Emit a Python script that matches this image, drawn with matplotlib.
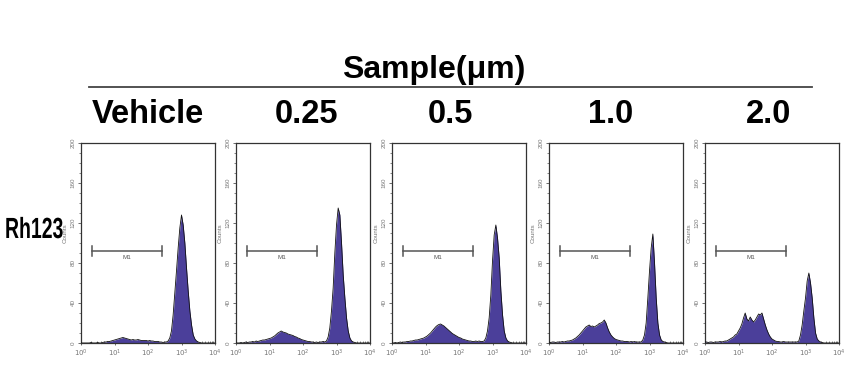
import numpy as np
import matplotlib
matplotlib.use("Agg")
import matplotlib.pyplot as plt
from matplotlib.ticker import LogLocator, NullFormatter, FixedLocator, FuncFormatter
from matplotlib.patheffects import AbstractPathEffect
from matplotlib.transforms import Affine2D

# ---------------- data ----------------
group_title = "Sample(μm)"
conditions = ["Vehicle", "0.25", "0.5", "1.0", "2.0"]
row_label = "Rh123"
y_label = "Counts"
gate_label = "M1"

# fluorescence channel positions (log10 of intensity), 0.05-decade bins
log_fl = [i * 0.05 for i in range(81)]

counts_vehicle = (
    [0, 0, 0, 0, 0, 0, 0.5, 0, 0, 0, 0.5, 0, 0, 0.5, 1, 1, 1.5, 1.5, 2, 2.5]
    + [3, 3.5, 4, 4.5, 5, 5.5, 5, 4.5, 4, 3.5, 3, 3.5, 3, 3, 3.5, 3, 2.5, 2.5, 2.5, 2.5]
    + [2, 2.5, 2, 2, 1.5, 1.5, 1.5, 1, 1, 0.5, 1, 1, 2, 5, 12, 28, 50, 72, 95, 115]
    + [128, 118, 100, 75, 52, 32, 18, 8, 4, 2, 1, 0.5, 0, 0, 0, 0, 0, 0, 0, 0]
    + [0]
)
counts_025 = (
    [0, 0, 0, 0.5, 0, 0.5, 1, 0.5, 1, 1, 1.5, 1, 2, 1.5, 2, 2.5, 3, 3, 3.5, 4]
    + [4.5, 5, 6, 7, 8.5, 10, 11, 12, 11, 10.5, 10, 9, 8.5, 8, 7.5, 6.5, 6, 5, 4.5, 3.5]
    + [3, 2.5, 2, 1.5, 1.5, 1, 1, 0.5, 1, 0.5, 1, 1, 1.5, 1, 2, 6, 15, 32, 55, 90]
    + [118, 135, 128, 100, 68, 45, 25, 12, 5, 2, 1, 0.5, 0, 0, 0, 0, 0, 0, 0, 0]
    + [0]
)
counts_05 = (
    [0, 0, 0.5, 0, 0.5, 1, 0.5, 1, 1, 1.5, 1.5, 2, 2, 2.5, 3, 3, 3.5, 4, 4.5, 5]
    + [6, 7, 8.5, 10, 12, 14, 16, 17.5, 18.5, 19, 18, 17, 15.5, 14, 12.5, 11, 9.5, 8.5, 7.5, 6.5]
    + [5.5, 5, 4, 3.5, 3, 2.5, 2, 2, 1.5, 1.5, 2, 1.5, 2, 1.5, 1.5, 2, 5, 12, 25, 48]
    + [82, 108, 118, 105, 85, 52, 28, 12, 5, 2, 1, 0.5, 0, 0, 0, 0, 0, 0, 0, 0]
    + [0]
)
counts_10 = (
    [1, 0.5, 1, 1, 0.5, 1, 1, 1, 1.5, 1, 1.5, 2, 2, 2.5, 3, 4, 5, 6.5, 8, 10]
    + [12, 14, 16, 17, 18, 16.5, 17, 16, 17, 18, 19.5, 20, 21, 23, 20, 15, 11, 8, 6, 4.5]
    + [3.5, 3, 2.5, 2, 2, 1.5, 1.5, 1.5, 1, 1.5, 1, 1.5, 1, 1, 1, 1, 3, 8, 20, 45]
    + [72, 95, 109, 80, 45, 20, 8, 3, 1.5, 1, 0.5, 0, 0, 0, 0, 0, 0, 0, 0, 0]
    + [0]
)
counts_20 = (
    [1, 1, 0.5, 1, 1, 0.5, 1, 1, 1, 1.5, 1, 1.5, 2, 2, 3, 4, 5, 6, 8, 9]
    + [12, 15, 19, 25, 30, 24, 22, 26, 23, 21, 23, 26, 29, 28, 30, 24, 18, 13, 9, 6]
    + [4, 3, 2, 1.5, 1.5, 1, 1, 1.5, 1, 1, 1, 1, 1, 1, 1, 1, 2, 8, 18, 32]
    + [45, 62, 70, 60, 45, 25, 10, 4, 2, 1, 0.5, 0, 0, 0, 0, 0, 0, 0, 0, 0]
    + [0]
)
all_counts = [counts_vehicle, counts_025, counts_05, counts_10, counts_20]

# M1 gate (intensity bounds and drawing height in counts)
gate_lo, gate_hi, gate_y = 2.1, 260.0, 92
y_ticks = [0, 40, 80, 120, 160, 200]
x_ticks = [1, 10, 100, 1000, 10000]


class StretchY(AbstractPathEffect):
    """Draw text glyphs vertically stretched about a fixed display baseline."""

    def __init__(self, y0, sy):
        super().__init__()
        self.y0 = y0
        self.sy = sy

    def draw_path(self, renderer, gc, tpath, affine, rgbFace=None):
        t = affine + Affine2D().translate(0, -self.y0).scale(1, self.sy).translate(0, self.y0)
        renderer.draw_path(gc, tpath, t, rgbFace)


# ---------------- figure ----------------
W, H = 866, 372
fig = plt.figure(figsize=(W / 100, H / 100), dpi=100)
plt.rcParams["font.family"] = ["Liberation Sans", "DejaVu Sans"]

fill_color = "#4b3f9a"
axis_gray = "#555555"
tick_gray = "#777777"

panel_lefts = [81, 236, 392, 549, 705]
panel_w, panel_top, panel_bot = 134, 143, 343

for i, (cond, counts) in enumerate(zip(conditions, all_counts)):
    left = panel_lefts[i]
    ax = fig.add_axes([left / W, 1 - panel_bot / H, panel_w / W, (panel_bot - panel_top) / H])
    x = 10 ** np.array(log_fl)
    y = np.array(counts, dtype=float)
    ax.fill_between(x, 0, y, color=fill_color, linewidth=0, zorder=2)
    ax.plot(x, y, color="#111111", lw=0.6, zorder=3)
    ax.set_xscale("log")
    ax.set_xlim(1, 1e4)
    ax.set_ylim(0, 200)

    # gate marker
    ax.plot([gate_lo, gate_hi], [gate_y, gate_y], color=axis_gray, lw=1.1, zorder=4)
    for gx in (gate_lo, gate_hi):
        ax.plot([gx, gx], [gate_y - 5, gate_y + 5], color=axis_gray, lw=1.1, zorder=4)
    ax.text(np.sqrt(gate_lo * gate_hi), gate_y - 4, gate_label, ha="center", va="top",
            fontsize=4.5, color=axis_gray)

    for s in ax.spines.values():
        s.set_color("#333333")
        s.set_linewidth(0.9)

    ax.yaxis.set_major_locator(FixedLocator(y_ticks))
    ax.yaxis.set_minor_locator(FixedLocator(list(range(0, 201, 10))))
    ax.set_yticklabels([str(t) for t in y_ticks], rotation=90, va="center",
                       fontsize=4.5, color=tick_gray)
    ax.xaxis.set_major_locator(FixedLocator(x_ticks))
    ax.xaxis.set_minor_locator(LogLocator(base=10, subs=np.arange(2, 10), numticks=20))
    ax.xaxis.set_minor_formatter(NullFormatter())
    ax.xaxis.set_major_formatter(FuncFormatter(lambda v, p: r"$10^{%d}$" % round(np.log10(v))))
    ax.tick_params(axis="x", which="major", labelsize=5, labelcolor=tick_gray,
                   length=2.5, width=0.6, color=axis_gray, direction="inout", pad=2)
    ax.tick_params(axis="x", which="minor", length=1.5, width=0.5, color=axis_gray, direction="in")
    ax.tick_params(axis="y", which="major", length=2.5, width=0.6, color=axis_gray,
                   direction="out", pad=1.5)
    ax.tick_params(axis="y", which="minor", length=1.2, width=0.5, color=axis_gray, direction="out")
    ax.set_ylabel(y_label, fontsize=4.5, color=tick_gray, labelpad=1)
    ax.yaxis.set_label_coords(-0.1, 0.55)

# column headers
header_centers = [148, 307, 450, 611, 769]
for cond, cx in zip(conditions, header_centers):
    fig.text(cx / W, 1 - 123 / H, cond, ha="center", va="baseline",
             fontsize=23.5, fontweight="bold", color="black")

fig.text(434 / W, 1 - 78 / H, group_title, ha="center", va="baseline",
         fontsize=23, fontweight="bold", color="black")
fig.add_artist(plt.Line2D([89 / W, 812 / W], [1 - 86.5 / H, 1 - 86.5 / H],
                          color="#444444", lw=1.3))

# row label: tall, condensed bold lettering (real text, heightened with a path effect)
base_px = 238
fig.text(5 / W, 1 - base_px / H, row_label, ha="left", va="baseline",
         fontsize=14, fontweight="bold", color="black",
         path_effects=[StretchY(H - base_px, 1.5)])

fig.savefig("out.png", dpi=100)
